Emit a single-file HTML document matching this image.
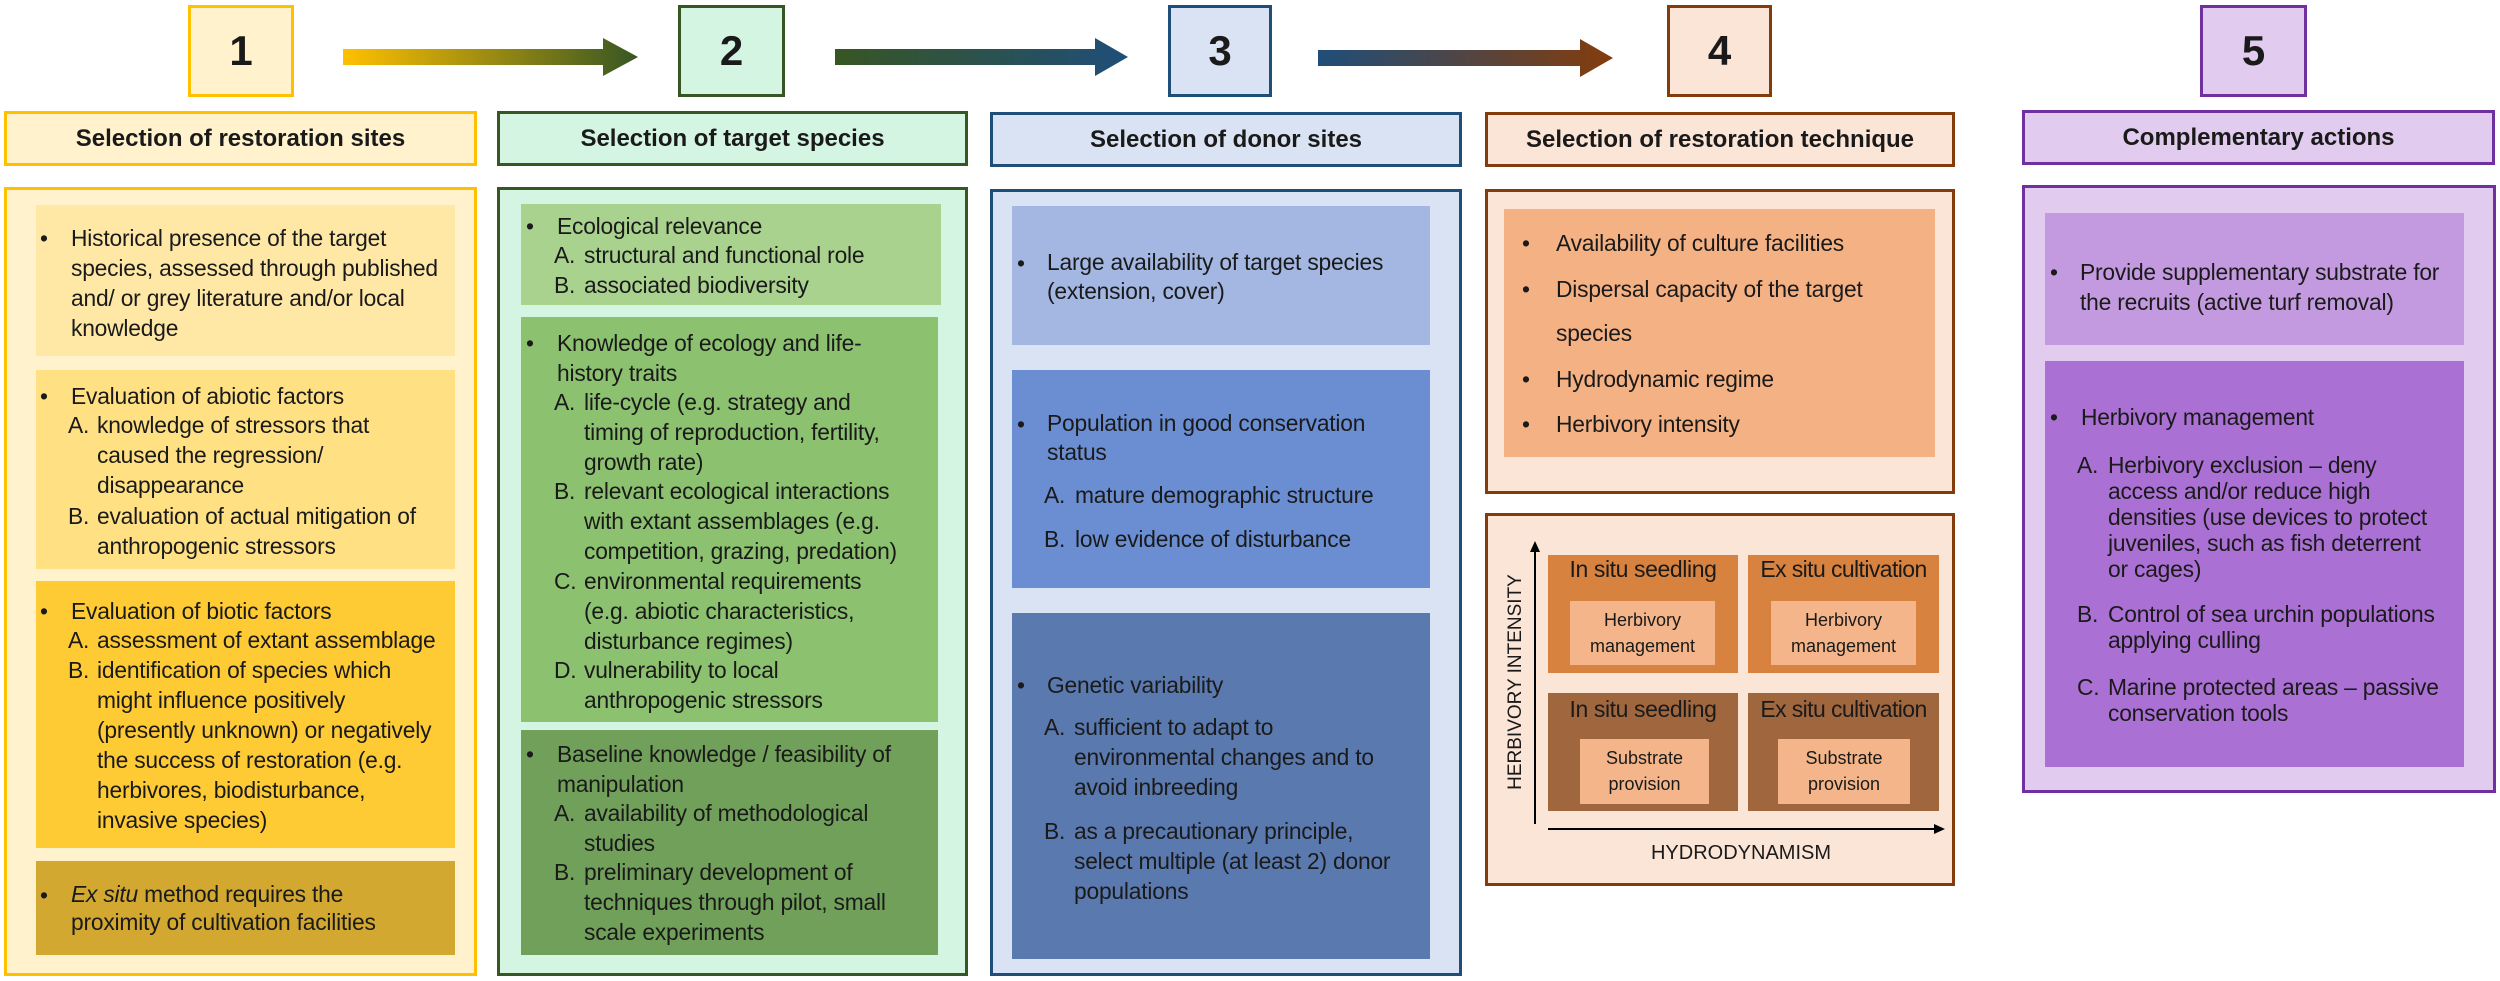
<!DOCTYPE html>
<html><head><meta charset="utf-8"><style>
body{margin:0;width:2500px;height:981px;background:#fff;position:relative;overflow:hidden;font-family:"Liberation Sans",sans-serif;color:#1a1a1a}
.b{position:absolute;box-sizing:border-box}
.t{position:absolute;font-size:22.8px;line-height:30px;white-space:nowrap;letter-spacing:-0.2px}
.h{position:absolute;box-sizing:border-box;border:3px solid;font-weight:bold;font-size:24px;display:flex;align-items:center;justify-content:center}
.n{position:absolute;box-sizing:border-box;border:3px solid;font-weight:bold;font-size:42px;display:flex;align-items:center;justify-content:center}
.c{position:absolute;font-size:20px;text-align:center;white-space:nowrap}
</style></head><body>
<svg class="b" style="left:0;top:0" width="2500" height="981">
<defs>
<linearGradient id="g1" x1="0" x2="1"><stop offset="0" stop-color="#FFC000"/><stop offset="1" stop-color="#375623"/></linearGradient>
<linearGradient id="g2" x1="0" x2="1"><stop offset="0" stop-color="#375623"/><stop offset="1" stop-color="#1F4E79"/></linearGradient>
<linearGradient id="g3" x1="0" x2="1"><stop offset="0" stop-color="#1F4E79"/><stop offset="1" stop-color="#843C0C"/></linearGradient>
</defs>
<polygon fill="url(#g1)" points="343,49 603,49 603,38 638,57 603,76 603,65 343,65"/>
<polygon fill="url(#g2)" points="835,49 1095,49 1095,38 1128,57 1095,76 1095,65 835,65"/>
<polygon fill="url(#g3)" points="1318,50 1580,50 1580,39 1613,58 1580,77 1580,66 1318,66"/>
</svg>

<div class="n" style="left:188px;top:5px;width:106px;height:92px;border-color:#FFC000;background:#FFF2CC">1</div>
<div class="n" style="left:678px;top:5px;width:107px;height:92px;border-color:#375623;background:#D5F5E3">2</div>
<div class="n" style="left:1168px;top:5px;width:104px;height:92px;border-color:#1F4E79;background:#DAE3F3">3</div>
<div class="n" style="left:1667px;top:5px;width:105px;height:92px;border-color:#843C0C;background:#FBE5D6">4</div>
<div class="n" style="left:2200px;top:5px;width:107px;height:92px;border-color:#7030A0;background:#E1CCF0">5</div>

<div class="h" style="left:4px;top:111px;width:473px;height:55px;border-color:#FFC000;background:#FFF2CC">Selection of restoration sites</div>
<div class="h" style="left:497px;top:111px;width:471px;height:55px;border-color:#375623;background:#D5F5E3">Selection of target species</div>
<div class="h" style="left:990px;top:112px;width:472px;height:55px;border-color:#1F4E79;background:#DAE3F3">Selection of donor sites</div>
<div class="h" style="left:1485px;top:112px;width:470px;height:55px;border-color:#843C0C;background:#FBE5D6">Selection of restoration technique</div>
<div class="h" style="left:2022px;top:110px;width:473px;height:55px;border-color:#7030A0;background:#E1CCF0">Complementary actions</div>

<div class="b" style="left:4px;top:187px;width:473px;height:789px;border:3px solid #FFC000;background:#FFF2CC"></div>
<div class="b" style="left:36px;top:205px;width:419px;height:151px;background:#FFE8A6"></div>
<div class="b" style="left:36px;top:370px;width:419px;height:199px;background:#FFE184"></div>
<div class="b" style="left:36px;top:581px;width:419px;height:267px;background:#FFCB35"></div>
<div class="b" style="left:36px;top:861px;width:419px;height:94px;background:#D2A831"></div>
<div class="t" style="left:40px;top:223px">•</div>
<div class="t" style="left:71px;top:223px">Historical presence of the target<br>species, assessed through published<br>and/ or grey literature and/or local<br>knowledge</div>
<div class="t" style="left:40px;top:381px">•</div>
<div class="t" style="left:71px;top:381px">Evaluation of abiotic factors</div>
<div class="t" style="left:68px;top:410px">A.</div>
<div class="t" style="left:97px;top:410px">knowledge of stressors that<br>caused the regression/<br>disappearance</div>
<div class="t" style="left:68px;top:501px">B.</div>
<div class="t" style="left:97px;top:501px">evaluation of actual mitigation of<br>anthropogenic stressors</div>
<div class="t" style="left:40px;top:596px">•</div>
<div class="t" style="left:71px;top:596px">Evaluation of biotic factors</div>
<div class="t" style="left:68px;top:625px">A.</div>
<div class="t" style="left:97px;top:625px">assessment of extant assemblage</div>
<div class="t" style="left:68px;top:655px">B.</div>
<div class="t" style="left:97px;top:655px">identification of species which<br>might influence positively<br>(presently unknown) or negatively<br>the success of restoration (e.g.<br>herbivores, biodisturbance,<br>invasive species)</div>
<div class="t" style="left:40px;top:880px">•</div>
<div class="t" style="left:71px;top:880px;line-height:28px"><i>Ex situ</i> method requires the<br>proximity of cultivation facilities</div>

<div class="b" style="left:497px;top:187px;width:471px;height:789px;border:3px solid #375623;background:#D5F5E3"></div>
<div class="b" style="left:521px;top:204px;width:420px;height:101px;background:#A9D28F"></div>
<div class="b" style="left:521px;top:317px;width:417px;height:405px;background:#8CC170"></div>
<div class="b" style="left:521px;top:730px;width:417px;height:225px;background:#71A05A"></div>
<div class="t" style="left:526px;top:211px">•</div>
<div class="t" style="left:557px;top:211px">Ecological relevance</div>
<div class="t" style="left:554px;top:240px">A.</div>
<div class="t" style="left:584px;top:240px">structural and functional role</div>
<div class="t" style="left:554px;top:270px">B.</div>
<div class="t" style="left:584px;top:270px">associated biodiversity</div>
<div class="t" style="left:526px;top:328px">•</div>
<div class="t" style="left:557px;top:328px">Knowledge of ecology and life-<br>history traits</div>
<div class="t" style="left:554px;top:387px">A.</div>
<div class="t" style="left:584px;top:387px">life-cycle (e.g. strategy and<br>timing of reproduction,  fertility,<br>growth rate)</div>
<div class="t" style="left:554px;top:476px">B.</div>
<div class="t" style="left:584px;top:476px">relevant ecological interactions<br>with extant assemblages (e.g.<br>competition, grazing, predation)</div>
<div class="t" style="left:554px;top:566px">C.</div>
<div class="t" style="left:584px;top:566px">environmental requirements<br>(e.g. abiotic characteristics,<br>disturbance regimes)</div>
<div class="t" style="left:554px;top:655px">D.</div>
<div class="t" style="left:584px;top:655px">vulnerability to local<br>anthropogenic stressors</div>
<div class="t" style="left:526px;top:739px">•</div>
<div class="t" style="left:557px;top:739px">Baseline knowledge / feasibility of<br>manipulation</div>
<div class="t" style="left:554px;top:798px">A.</div>
<div class="t" style="left:584px;top:798px">availability of methodological<br>studies</div>
<div class="t" style="left:554px;top:857px">B.</div>
<div class="t" style="left:584px;top:857px">preliminary development of<br>techniques through pilot, small<br>scale experiments</div>

<div class="b" style="left:990px;top:189px;width:472px;height:787px;border:3px solid #1F4E79;background:#DAE3F3"></div>
<div class="b" style="left:1012px;top:206px;width:418px;height:139px;background:#A3B7E2"></div>
<div class="b" style="left:1012px;top:370px;width:418px;height:218px;background:#6A8ED1"></div>
<div class="b" style="left:1012px;top:613px;width:418px;height:346px;background:#5A79AE"></div>
<div class="t" style="left:1017px;top:248px">•</div>
<div class="t" style="left:1047px;top:248px;line-height:29px">Large availability of target species<br>(extension, cover)</div>
<div class="t" style="left:1017px;top:409px">•</div>
<div class="t" style="left:1047px;top:409px;line-height:29px">Population in good conservation<br>status</div>
<div class="t" style="left:1044px;top:480px">A.</div>
<div class="t" style="left:1075px;top:480px">mature demographic structure</div>
<div class="t" style="left:1044px;top:524px">B.</div>
<div class="t" style="left:1075px;top:524px">low evidence of disturbance</div>
<div class="t" style="left:1017px;top:670px">•</div>
<div class="t" style="left:1047px;top:670px">Genetic variability</div>
<div class="t" style="left:1044px;top:712px">A.</div>
<div class="t" style="left:1074px;top:712px">sufficient to adapt to<br>environmental changes and to<br>avoid inbreeding</div>
<div class="t" style="left:1044px;top:816px">B.</div>
<div class="t" style="left:1074px;top:816px">as a precautionary principle,<br>select multiple (at least 2) donor<br>populations</div>

<div class="b" style="left:1485px;top:189px;width:470px;height:305px;border:3px solid #843C0C;background:#FBE5D6"></div>
<div class="b" style="left:1504px;top:209px;width:431px;height:248px;background:#F4B183"></div>
<div class="t" style="left:1522px;top:228px">•</div><div class="t" style="left:1556px;top:228px">Availability of culture facilities</div>
<div class="t" style="left:1522px;top:274px">•</div><div class="t" style="left:1556px;top:274px">Dispersal capacity of the target</div>
<div class="t" style="left:1556px;top:318px">species</div>
<div class="t" style="left:1522px;top:364px">•</div><div class="t" style="left:1556px;top:364px">Hydrodynamic regime</div>
<div class="t" style="left:1522px;top:409px">•</div><div class="t" style="left:1556px;top:409px">Herbivory intensity</div>

<div class="b" style="left:1485px;top:513px;width:470px;height:373px;border:3px solid #843C0C;background:#FBE5D6"></div>
<div class="b" style="left:1548px;top:555px;width:190px;height:118px;background:#D7823F"></div>
<div class="b" style="left:1748px;top:555px;width:191px;height:118px;background:#D7823F"></div>
<div class="b" style="left:1548px;top:693px;width:190px;height:118px;background:#A0673F"></div>
<div class="b" style="left:1748px;top:693px;width:191px;height:118px;background:#A0673F"></div>
<div class="b" style="left:1570px;top:601px;width:145px;height:64px;background:#F3B589"></div>
<div class="b" style="left:1771px;top:601px;width:145px;height:64px;background:#F3B589"></div>
<div class="b" style="left:1580px;top:739px;width:129px;height:65px;background:#F3B589"></div>
<div class="b" style="left:1778px;top:739px;width:132px;height:65px;background:#F3B589"></div>
<div class="c" style="left:1548px;top:555px;width:190px;font-size:23px;line-height:28px;letter-spacing:-0.4px">In situ seedling</div>
<div class="c" style="left:1748px;top:555px;width:191px;font-size:23px;line-height:28px;letter-spacing:-0.6px">Ex situ cultivation</div>
<div class="c" style="left:1548px;top:695px;width:190px;font-size:23px;line-height:28px;letter-spacing:-0.4px">In situ seedling</div>
<div class="c" style="left:1748px;top:695px;width:191px;font-size:23px;line-height:28px;letter-spacing:-0.6px">Ex situ cultivation</div>
<div class="c" style="left:1570px;top:607px;width:145px;font-size:18px;line-height:26px">Herbivory<br>management</div>
<div class="c" style="left:1771px;top:607px;width:145px;font-size:18px;line-height:26px">Herbivory<br>management</div>
<div class="c" style="left:1580px;top:745px;width:129px;font-size:18px;line-height:26px">Substrate<br>provision</div>
<div class="c" style="left:1778px;top:745px;width:132px;font-size:18px;line-height:26px">Substrate<br>provision</div>
<svg class="b" style="left:0;top:0" width="2500" height="981">
<line x1="1535" y1="824" x2="1535" y2="550" stroke="#000" stroke-width="2"/>
<polygon points="1535,541 1530,552 1540,552" fill="#000"/>
<line x1="1548" y1="829" x2="1934" y2="829" stroke="#000" stroke-width="2"/>
<polygon points="1945,829 1934,824 1934,834" fill="#000"/>
<text x="1516" y="682" font-family="Liberation Sans" font-size="19" text-anchor="middle" transform="rotate(-90 1516 682)" dominant-baseline="middle" fill="#1a1a1a">HERBIVORY INTENSITY</text>
</svg>
<div class="c" style="left:1641px;top:841px;width:200px;font-size:20px;line-height:24px">HYDRODYNAMISM</div>

<div class="b" style="left:2022px;top:185px;width:474px;height:608px;border:3px solid #7030A0;background:#E1CCF0"></div>
<div class="b" style="left:2045px;top:213px;width:419px;height:132px;background:#C39ADF"></div>
<div class="b" style="left:2045px;top:361px;width:419px;height:406px;background:#AA70D4"></div>
<div class="t" style="left:2050px;top:257px">•</div>
<div class="t" style="left:2080px;top:257px">Provide supplementary substrate for<br>the recruits (active turf removal)</div>
<div class="t" style="left:2050px;top:402px">•</div>
<div class="t" style="left:2081px;top:402px">Herbivory management</div>
<div class="t" style="left:2077px;top:452px;line-height:26px">A.</div>
<div class="t" style="left:2108px;top:452px;line-height:26px">Herbivory exclusion – deny<br>access and/or reduce high<br>densities (use devices to protect<br>juveniles, such as fish deterrent<br>or cages)</div>
<div class="t" style="left:2077px;top:601px;line-height:26px">B.</div>
<div class="t" style="left:2108px;top:601px;line-height:26px">Control of sea urchin populations<br>applying culling</div>
<div class="t" style="left:2077px;top:674px;line-height:26px">C.</div>
<div class="t" style="left:2108px;top:674px;line-height:26px">Marine protected areas – passive<br>conservation tools</div>
</body></html>
